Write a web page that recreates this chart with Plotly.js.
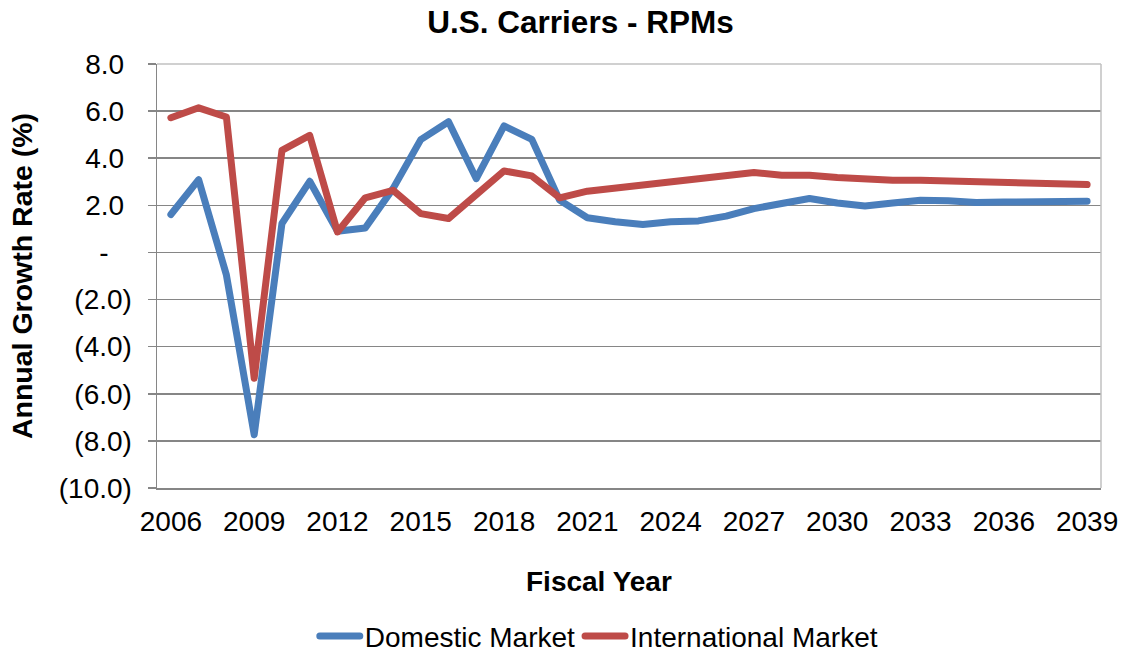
<!DOCTYPE html>
<html>
<head>
<meta charset="utf-8">
<script src="https://cdn.plot.ly/plotly-3.0.1.min.js"></script>
<style>
html,body{margin:0;padding:0;background:#fff;}
#chart{width:1125px;height:655px;}
.scatterlayer path.js-line, .legendlines path{stroke-linecap:round;stroke-linejoin:round;}
</style>
</head>
<body>
<div id="chart"></div>
<script>
const years = [2006,2007,2008,2009,2010,2011,2012,2013,2014,2015,2016,2017,2018,2019,2020,2021,2022,2023,2024,2025,2026,2027,2028,2029,2030,2031,2032,2033,2034,2035,2036,2037,2038,2039];
const domestic = [1.61,3.09,-0.96,-7.74,1.23,3.02,0.90,1.04,2.71,4.79,5.55,3.13,5.37,4.80,2.22,1.47,1.30,1.19,1.30,1.34,1.54,1.86,2.08,2.29,2.10,1.97,2.10,2.22,2.19,2.12,2.14,2.16,2.17,2.17];
const international = [5.72,6.14,5.75,-5.34,4.33,4.97,0.87,2.32,2.64,1.65,1.44,2.46,3.46,3.25,2.32,2.60,2.74,2.88,2.95,3.11,3.30,3.39,3.28,3.28,3.18,3.09,3.06,3.06,3.03,2.99,2.96,2.92,2.91,2.88];
const seriesNames = ["Domestic Market","International Market"];
const yTickVals = [8,6,4,2,0,-2,-4,-6,-8,-10];
const yTickText = ["8.0\u00a0","6.0\u00a0","4.0\u00a0","2.0\u00a0","-\u00a0\u00a0\u00a0","(2.0)","(4.0)","(6.0)","(8.0)","(10.0)"];
const xTickVals = [2006,2009,2012,2015,2018,2021,2024,2027,2030,2033,2036,2039];
const titleText = "U.S. Carriers - RPMs";
const yTitle = "Annual Growth Rate (%)";
const xTitle = "Fiscal Year";

const FONT = "Liberation Sans, Arial, sans-serif";
const GRID = "#868686";

const traces = [
  {x: years, y: domestic, name: seriesNames[0], type: "scatter", mode: "lines",
   line: {color: "#4a7ebb", width: 7}},
  {x: years, y: international, name: seriesNames[1], type: "scatter", mode: "lines",
   line: {color: "#be4b48", width: 7}}
];

const layout = {
  width: 1125, height: 655,
  paper_bgcolor: "#fff", plot_bgcolor: "#fff",
  margin: {l: 157, r: 24, t: 64, b: 167, autoexpand: false},
  font: {family: FONT, size: 28, color: "#000"},
  title: {text: titleText, font: {family: FONT, size: 31.5, weight: "bold", color: "#000"},
          x: 0.516, xref: "container", xanchor: "center", y: 0.966, yref: "container", yanchor: "middle"},
  showlegend: true,
  legend: {orientation: "h", x: 0.468, xanchor: "center", y: -0.35, yanchor: "middle",
           itemwidth: 40,
           font: {family: FONT, size: 28, color: "#000"}, bgcolor: "rgba(0,0,0,0)"},
  xaxis: {
    range: [2005.5, 2039.5], tickmode: "array", tickvals: xTickVals,
    showgrid: false, zeroline: false, showline: true, linecolor: GRID, linewidth: 1.5,
    ticks: "", ticklabelstandoff: 8, tickfont: {family: FONT, size: 28, color: "#000"}
  },
  yaxis: {
    range: [-10, 8], tickmode: "array", tickvals: yTickVals, ticktext: yTickText,
    showgrid: true, gridcolor: GRID, gridwidth: 1.5, zeroline: false,
    showline: true, linecolor: GRID, linewidth: 1.5,
    ticks: "outside", ticklen: 8, tickcolor: GRID, tickwidth: 1.5, ticklabelstandoff: 10,
    tickfont: {family: FONT, size: 28, color: "#000"},
    title: {text: yTitle, font: {family: FONT, size: 28.5, weight: "bold", color: "#000"}, standoff: 18}
  },
  shapes: [
    {type: "line", xref: "paper", yref: "paper", x0: 0, x1: 1, y0: 1, y1: 1, line: {color: "#c0c0c0", width: 1.5}, layer: "above"},
    {type: "line", xref: "paper", yref: "paper", x0: 1, x1: 1, y0: 0, y1: 1, line: {color: "#c0c0c0", width: 1.5}, layer: "above"}
  ],
  annotations: [
    {text: xTitle, xref: "paper", yref: "paper", x: 0.468, y: -0.22, xanchor: "center", yanchor: "middle",
     showarrow: false, font: {family: FONT, size: 28, weight: "bold", color: "#000"}}
  ]
};

Plotly.newPlot("chart", traces, layout, {displayModeBar: false, staticPlot: true});
</script>
</body>
</html>
